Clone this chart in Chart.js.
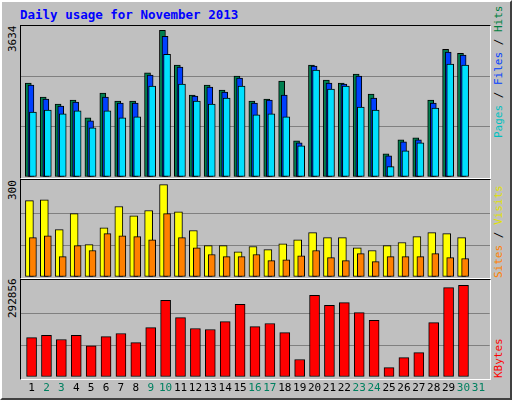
<!DOCTYPE html>
<html><head><meta charset="utf-8">
<script src="https://cdn.jsdelivr.net/npm/chart.js@4"></script>
<style>
body{margin:0;width:512px;height:400px;overflow:hidden;background:#c0c0c0;font-family:"DejaVu Sans Mono",monospace}
#frame{position:absolute;left:0;top:0;width:508px;height:396px;border:2px solid;border-color:#fff #404040 #404040 #fff;background:#c0c0c0}
.panel{position:absolute;background:#c0c0c0;border-top:1px solid #000;border-left:1px solid #000;border-right:1px solid #fff;border-bottom:1px solid #fff;box-sizing:border-box}
canvas{position:absolute}
.rot{position:absolute;transform-origin:0 0;transform:rotate(-90deg);white-space:nowrap;font-size:11px;line-height:12px}
#title{position:absolute;left:20px;top:7px;font-size:12.5px;font-weight:bold;color:#0000ff}
</style></head><body>
<div id="frame"></div>
<div id="title">Daily usage for November 2013</div>
<div class="panel" style="left:20px;top:25px;width:471px;height:154px"></div>
<div class="panel" style="left:20px;top:179px;width:471px;height:100px"></div>
<div class="panel" style="left:20px;top:279px;width:471px;height:101px"></div>
<div class="rot" style="left:7px;top:52px;color:#000">3634</div>
<div class="rot" style="left:7px;top:200px;color:#000">300</div>
<div class="rot" style="left:7px;top:318px;color:#000">292856</div>
<div class="rot" style="left:493px;top:138px"><span style="color:#00c0c0">Pages</span> / <span style="color:#0040ff">Files</span> / <span style="color:#008040">Hits</span></div>
<div class="rot" style="left:493px;top:278px"><span style="color:#ff8000">Sites</span> / <span style="color:#e0e000">Visits</span></div>
<div class="rot" style="left:493px;top:378px;color:#ff0000">KBytes</div>
<canvas id="c1" style="left:21px;top:26px;width:469px;height:151px" width="469" height="151"></canvas>
<canvas id="c2" style="left:21px;top:181px;width:469px;height:96px" width="469" height="96"></canvas>
<canvas id="c3" style="left:21px;top:281px;width:469px;height:116px" width="469" height="116"></canvas>
<script>
const days=[1,2,3,4,5,6,7,8,9,10,11,12,13,14,15,16,17,18,19,20,21,22,23,24,25,26,27,28,29,30,31];
const weekend=[2,3,9,10,16,17,23,24,30,31];
const hits=[2326,1981,1808,1907,1463,2080,1882,1882,2581,3634,2770,2030,2277,2154,2499,1882,1932,2376,896,2770,2400,2326,2548,2055,575,921,970,1907,3165,3066,0];
const files=[2277,1932,1759,1858,1389,1981,1833,1833,2524,3485,2721,2006,2228,2104,2450,1833,1907,2030,847,2745,2326,2302,2499,1956,526,871,921,1833,3091,3017,0];
const pages=[1611,1660,1562,1636,1217,1636,1463,1488,2252,3041,2302,1882,1808,1956,2252,1537,1562,1488,773,2647,2178,2252,1734,1660,255,649,847,1710,2795,2770,0];
const visits=[248,251,154,206,105,160,229,199,216,300,212,151,102,102,82,99,89,108,121,144,128,128,95,86,102,112,131,144,141,128,0];
const sites=[128,134,66,102,86,141,134,131,121,206,128,95,73,66,66,73,53,56,69,86,63,53,76,50,66,66,66,76,63,60,0];
const kbytes=[126000,133000,120000,133000,100000,129000,139000,110000,158000,245000,190000,155000,152000,177000,232000,161000,171000,142000,56000,261000,229000,238000,206000,181000,30000,62000,78000,174000,286000,292856,0];

const XMIN=0.2,XMAX=31.67;
function pts(a){return days.map((d,i)=>({x:d,y:a[i]}));}
function xAxis(shift,show){
  const ax={type:'linear',min:XMIN+shift,max:XMAX+shift,display:!!show,offset:false,
    grid:{display:false,drawTicks:false},border:{display:false}};
  if(show){
    ax.afterBuildTicks=s=>{s.ticks=days.map(d=>({value:d}));};
    ax.afterFit=s=>{s.height=20;};
    ax.ticks={padding:5,autoSkip:false,maxRotation:0,font:{family:'DejaVu Sans Mono',size:11},
      color:c=>weekend.includes(c.tick.value)?'#008060':'#000'};
  }
  return ax;
}
function yAxis(max){
  return {type:'linear',min:0,max:max,display:true,position:'left',
    ticks:{display:false,stepSize:max/3},border:{display:false},
    afterBuildTicks:s=>{s.ticks=[0,max/3,2*max/3,max].map(v=>({value:v}));},
    afterFit:s=>{s.width=0;},
    grid:{drawTicks:false,lineWidth:1,color:c=>(c.index===1||c.index===2)?'#808080':'rgba(0,0,0,0)'}};
}
function ds(data,color,ax,w){
  return {data:pts(data),backgroundColor:color,borderColor:'#000',borderWidth:1,borderSkipped:false,
    xAxisID:ax,barThickness:w,grouped:false};
}
const common={responsive:false,animation:false,devicePixelRatio:1,
  layout:{padding:0},plugins:{legend:{display:false},tooltip:{enabled:false}}};

new Chart(document.getElementById('c1'),{type:'bar',
  data:{datasets:[ds(pages,'#00e0ff','xp',7),ds(files,'#0040ff','xf',6),ds(hits,'#008050','xh',6)]},
  options:{...common,scales:{xp:xAxis(0),xf:xAxis(0.134),xh:xAxis(0.31),y:yAxis(3740)}}});
new Chart(document.getElementById('c2'),{type:'bar',
  data:{datasets:[ds(sites,'#ff8000','xs',7),ds(visits,'#ffff00','xv',8)]},
  options:{...common,scales:{xs:xAxis(0),xv:xAxis(0.235),y:yAxis(312)}}});
new Chart(document.getElementById('c3'),{type:'bar',
  data:{datasets:[ds(kbytes,'#ff0000','xk',10)]},
  options:{...common,scales:{xk:xAxis(0.09,true),y:yAxis(307000)}}});
</script></body></html>
